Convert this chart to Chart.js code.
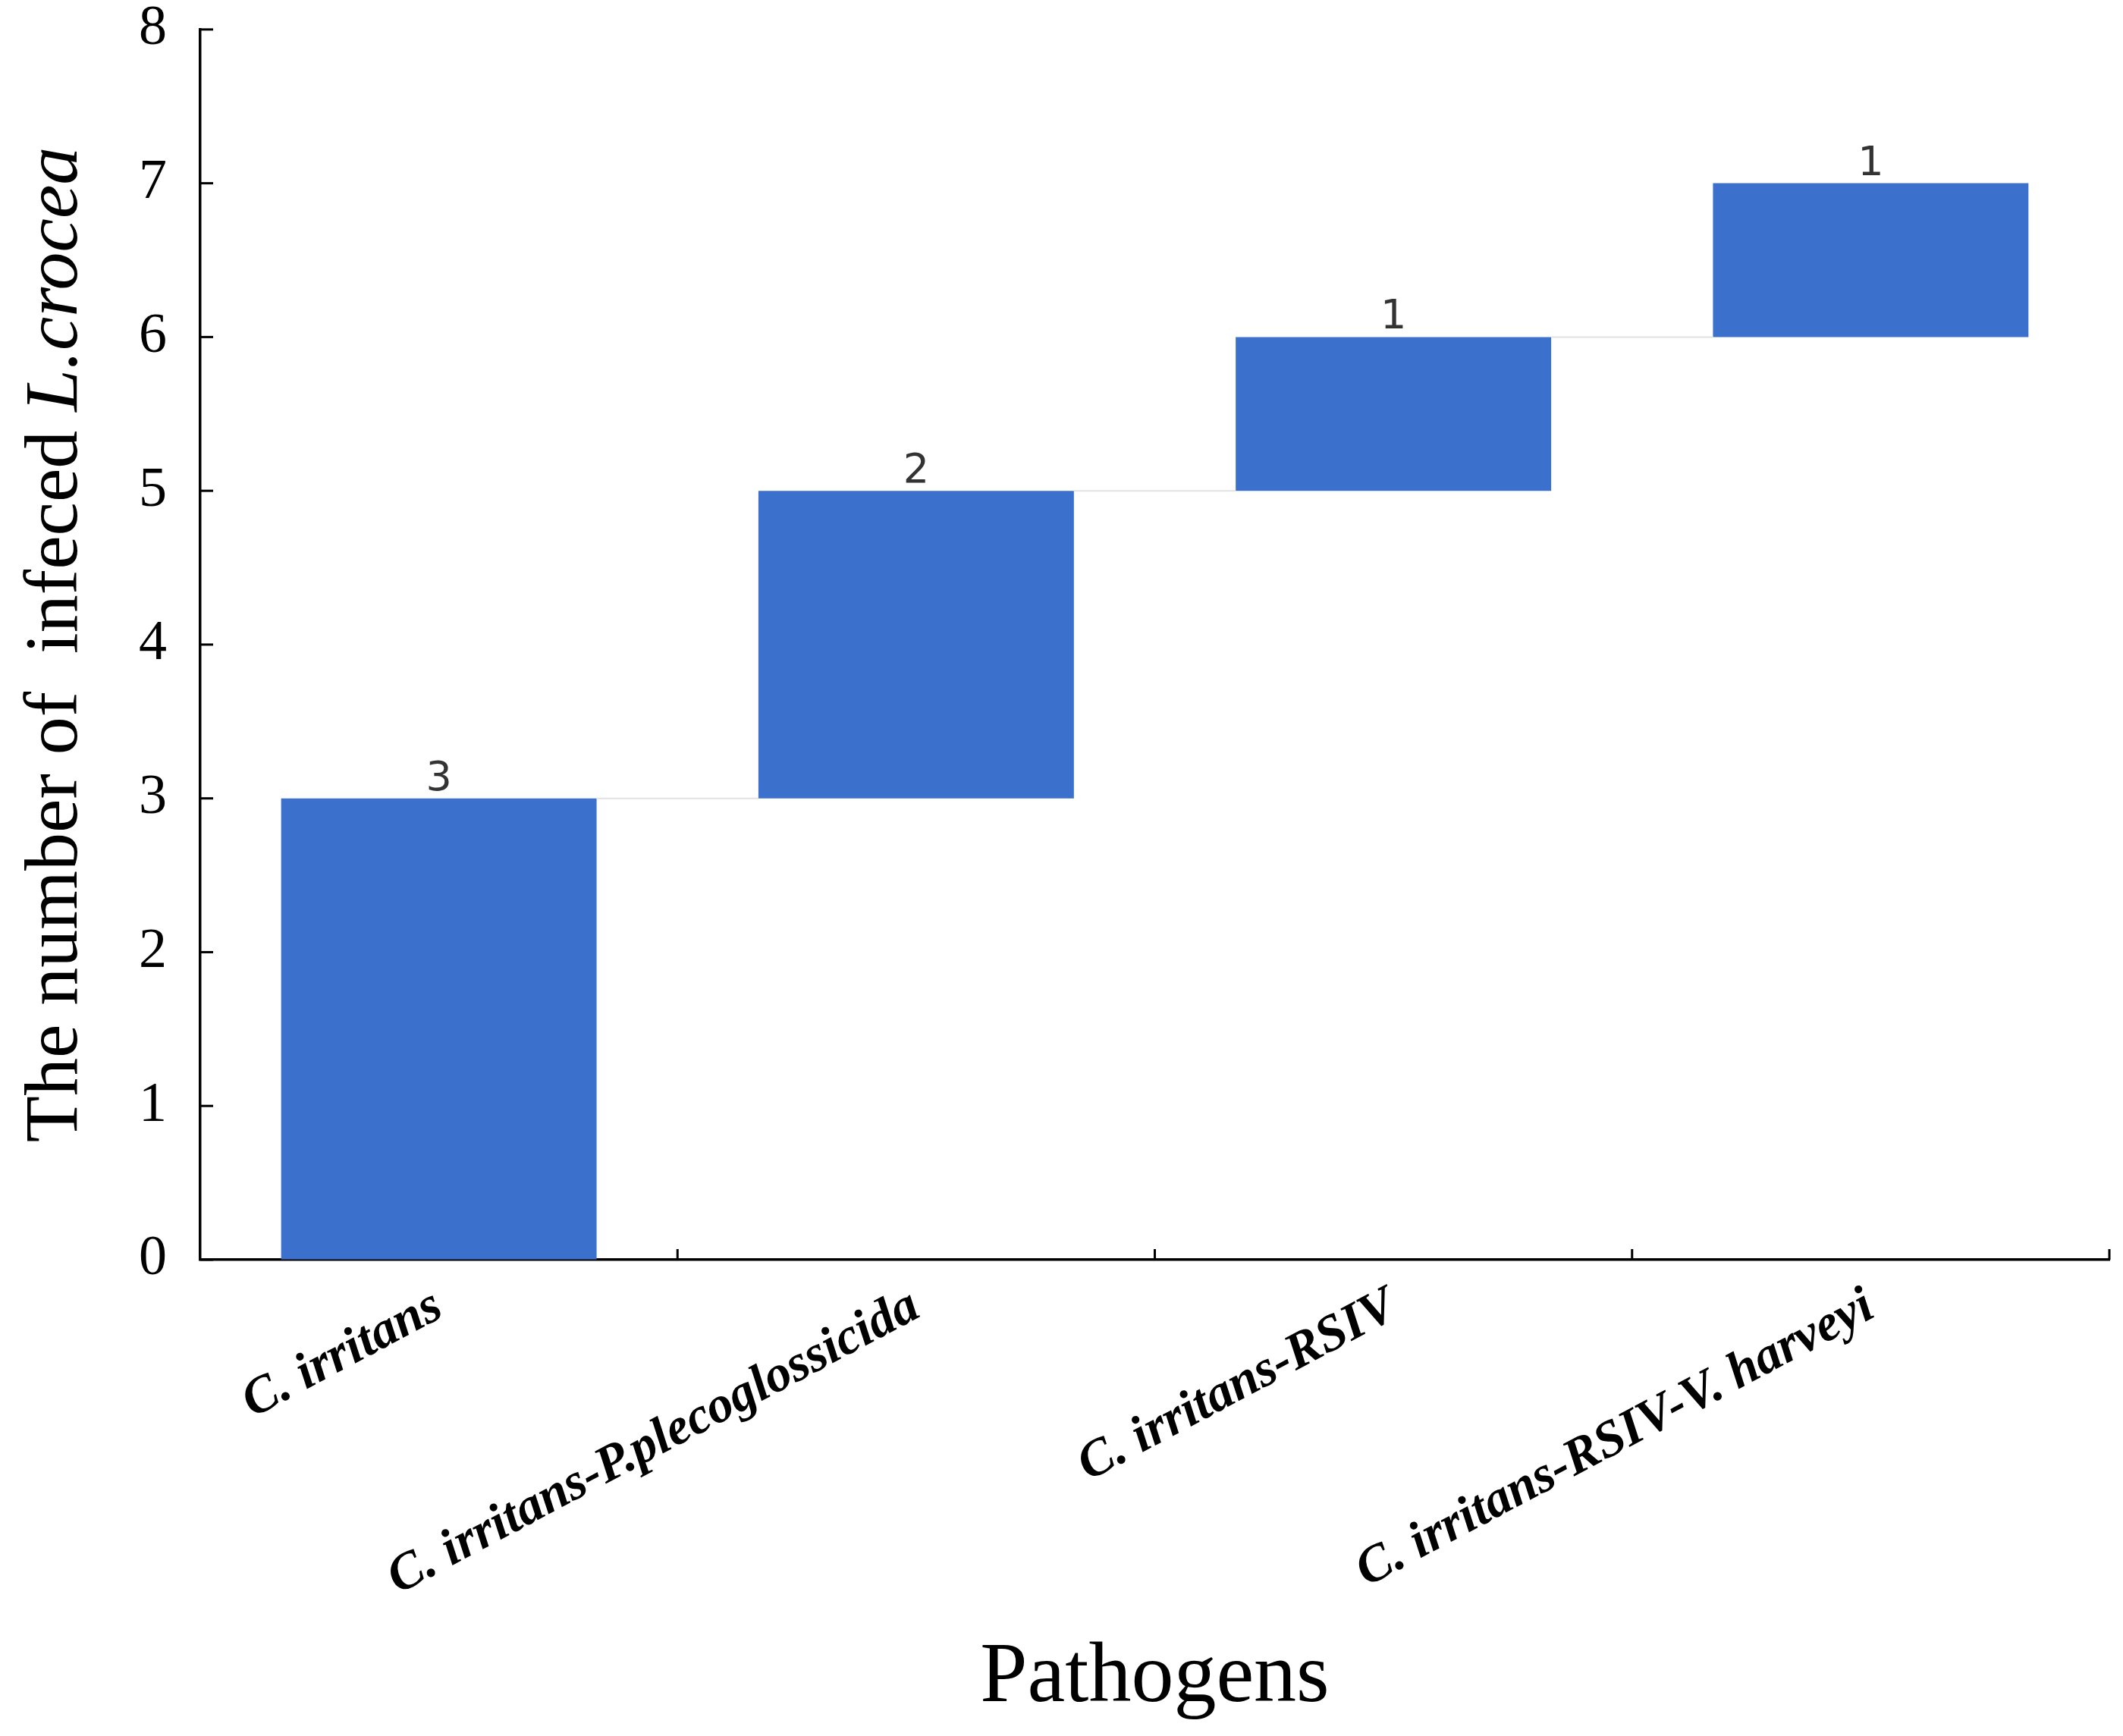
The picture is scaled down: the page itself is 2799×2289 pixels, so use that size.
<!DOCTYPE html>
<html>
<head>
<meta charset="utf-8">
<script src="https://cdn.jsdelivr.net/npm/chart.js@4.4.1/dist/chart.umd.min.js"></script>
<style>
  html, body { margin: 0; padding: 0; background: #fff; }
  #wrap { width: 2799px; height: 2289px; position: relative; }
</style>
</head>
<body>
<div id="wrap"><canvas id="c"></canvas></div>
<script>
const CATEGORIES = ['C. irritans', 'C. irritans-P.plecoglossicida', 'C. irritans-RSIV', 'C. irritans-RSIV-V. harveyi'];
const INCREMENTS = [3, 2, 1, 1];
const Y_TICKS = [0, 1, 2, 3, 4, 5, 6, 7, 8];
const Y_TITLE_PARTS = ['The number of  infeced ', 'L.crocea'];
const X_TITLE = 'Pathogens';

const BAR_BLUE = '#3c70cd';
const SERIF = '"Liberation Serif", "Times New Roman", serif';

// waterfall: each bar floats from the running total to running total + increment
let running = 0;
const ranges = INCREMENTS.map(v => {
  const r = [running, running + v];
  running += v;
  return r;
});

const decor = {
  id: 'decor',
  afterDatasetsDraw(chart) {
    const { ctx, chartArea, scales: { x, y } } = chart;
    const bars = chart.getDatasetMeta(0).data;
    ctx.save();

    // thin connectors between bars
    ctx.strokeStyle = '#e2e2e2';
    ctx.lineWidth = 2;
    for (let i = 0; i < bars.length - 1; i++) {
      const yy = y.getPixelForValue(ranges[i][1]);
      ctx.beginPath();
      ctx.moveTo(bars[i].x + bars[i].width / 2, yy);
      ctx.lineTo(bars[i + 1].x - bars[i + 1].width / 2, yy);
      ctx.stroke();
    }

    // value labels
    ctx.font = '54px "DejaVu Sans"';
    ctx.fillStyle = '#333';
    ctx.textAlign = 'center';
    ctx.textBaseline = 'alphabetic';
    bars.forEach((b, i) => {
      ctx.fillText(String(INCREMENTS[i]), b.x, y.getPixelForValue(ranges[i][1]) - 11);
    });

    // inward tick marks
    ctx.strokeStyle = '#000';
    ctx.lineWidth = 3;
    Y_TICKS.forEach(v => {
      const yy = y.getPixelForValue(v);
      ctx.beginPath();
      ctx.moveTo(chartArea.left, yy);
      ctx.lineTo(chartArea.left + 17, yy);
      ctx.stroke();
    });
    for (let i = 1; i <= CATEGORIES.length; i++) {
      const xx = x.getPixelForValue(i - 0.5);
      ctx.beginPath();
      ctx.moveTo(xx, chartArea.bottom);
      ctx.lineTo(xx, chartArea.bottom - 14);
      ctx.stroke();
    }

    // y title, mixed upright / italic
    const fontN = '100px ' + SERIF;
    const fontI = 'italic 100px ' + SERIF;
    ctx.font = fontN;
    const w1 = ctx.measureText(Y_TITLE_PARTS[0]).width;
    ctx.font = fontI;
    const w2 = ctx.measureText(Y_TITLE_PARTS[1]).width;
    const cy = (chartArea.top + chartArea.bottom) / 2;
    ctx.translate(75, cy);
    ctx.rotate(-Math.PI / 2);
    ctx.fillStyle = '#000';
    ctx.textAlign = 'left';
    ctx.textBaseline = 'middle';
    const start = -(w1 + w2) / 2;
    ctx.font = fontN;
    ctx.fillText(Y_TITLE_PARTS[0], start, 0);
    ctx.font = fontI;
    ctx.fillText(Y_TITLE_PARTS[1], start + w1, 0);
    ctx.restore();
  }
};

new Chart(document.getElementById('c'), {
  type: 'bar',
  data: {
    labels: CATEGORIES,
    datasets: [{
      data: ranges,
      backgroundColor: BAR_BLUE,
      borderWidth: 0,
      barPercentage: 0.661,
      categoryPercentage: 1.0
    }]
  },
  options: {
    responsive: true,
    maintainAspectRatio: false,
    animation: false,
    devicePixelRatio: 1,
    layout: { padding: { top: 0, right: 18, left: 0, bottom: 0 } },
    plugins: { legend: { display: false }, tooltip: { enabled: false } },
    scales: {
      x: {
        grid: { display: false, drawTicks: false, tickLength: 0 },
        border: { display: true, color: '#000', width: 3.5 },
        ticks: {
          color: '#000',
          autoSkip: false,
          maxRotation: 28,
          minRotation: 28,
          padding: 22,
          font: { family: SERIF, size: 68, style: 'italic', weight: 'bold' }
        },
        title: {
          display: true,
          text: X_TITLE,
          color: '#000',
          font: { family: SERIF, size: 112 },
          padding: { top: 0, bottom: 8 }
        },
        afterFit(scale) { scale.height = 2289 - 1661; }
      },
      y: {
        min: 0,
        max: 8,
        // invisible tick marks make the gap, so the label padding does not push the top down
        grid: { display: true, drawOnChartArea: false, drawTicks: true, tickLength: 44, color: 'rgba(0,0,0,0)' },
        border: { display: true, color: '#000', width: 3.5 },
        ticks: {
          stepSize: 1,
          color: '#000',
          padding: 0,
          font: { family: SERIF, size: 74, lineHeight: 1.05 }
        },
        afterFit(scale) { scale.width = 264; }
      }
    }
  },
  plugins: [decor]
});
</script>
</body>
</html>
